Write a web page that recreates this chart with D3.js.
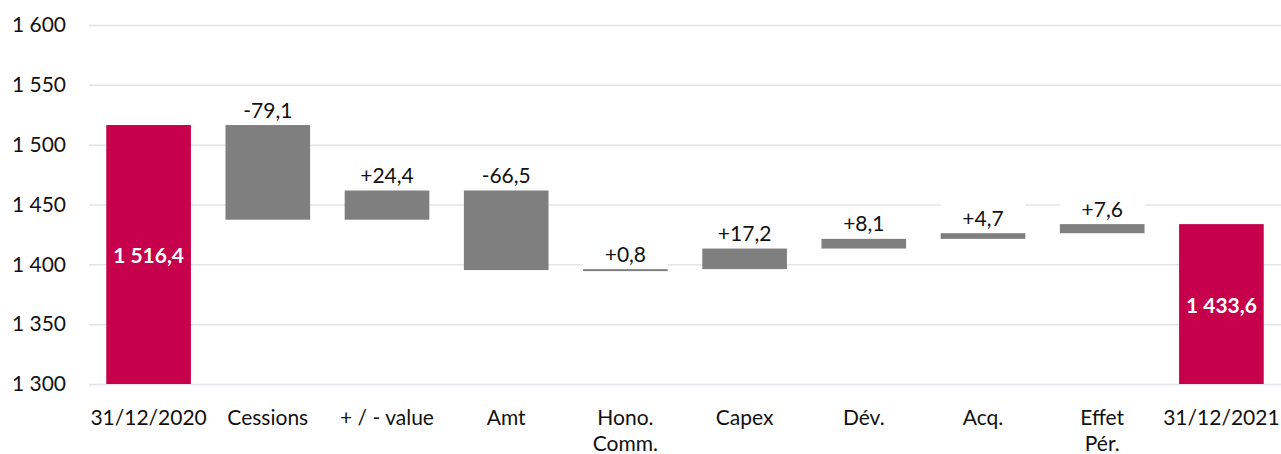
<!DOCTYPE html>
<html><head><meta charset="utf-8">
<script src="https://cdn.jsdelivr.net/npm/d3@7"></script>
<style>
html,body{margin:0;padding:0;background:#fff;}
svg{display:block;font-family:Lato,"Open Sans",sans-serif;}
</style></head>
<body>
<svg id="chart" width="1281" height="454"></svg>
<script>
// ---- data ----
const categories = ["31/12/2020","Cessions","+ / - value","Amt","Hono.|Comm.","Capex","Dév.","Acq.","Effet|Pér.","31/12/2021"];
const kinds      = ["total","delta","delta","delta","delta","delta","delta","delta","delta","total"];
const values     = [1516.4, -79.1, 24.4, -66.5, 0.8, 17.2, 8.1, 4.7, 7.6, 1433.6];
const yTicks     = [1300,1350,1400,1450,1500,1550,1600];
const yDomain    = [1300,1600];

// ---- layout ----
const svg = d3.select("#chart");
const margin = {left: 89, right: 0, top: 25, bottom: 70};
const W = 1281, H = 454;
const plotBottom = 384;

const loc = d3.formatLocale({decimal: ",", thousands: "\u00a0", grouping: [3], currency: ["", ""]});
const fmtTick = loc.format(",d");
const fmtVal = loc.format(",.1f");
const fmtDelta = v => (v >= 0 ? "+" : "-") + loc.format(".1f")(Math.abs(v));

const x = d3.scaleBand().domain(categories).range([margin.left, W - margin.right]).paddingInner(0.29).paddingOuter(0.145);
const y = d3.scaleLinear().domain(yDomain).range([plotBottom, margin.top]);

// compute waterfall
let running = 0;
const rows = categories.map((c, i) => {
  let lo, hi;
  if (kinds[i] === "total") { lo = yDomain[0]; hi = values[i]; running = values[i]; }
  else { const start = running; running = start + values[i]; lo = Math.min(start, running); hi = Math.max(start, running); }
  return {c, kind: kinds[i], v: values[i], lo, hi};
});

// gridlines
const yAxis = d3.axisLeft(y).tickValues(yTicks).tickSize(-(W - margin.right - margin.left)).tickFormat(fmtTick).tickPadding(23);
const gy = svg.append("g").attr("transform", `translate(${margin.left},0)`).call(yAxis);
gy.select(".domain").remove();
gy.selectAll(".tick line").attr("stroke", "#e3e3ea").attr("stroke-width", 1.5);
gy.selectAll(".tick text").attr("font-size", 21).attr("fill", "#111").attr("font-family", "Lato, sans-serif");

// label background boxes (white) for delta bars
svg.append("g").selectAll("rect").data(rows.filter(r => r.kind === "delta")).join("rect")
  .attr("x", d => x(d.c)).attr("width", x.bandwidth())
  .attr("y", d => y(d.hi) - 30).attr("height", 30)
  .attr("fill", "#fff");

// bars
svg.append("g").selectAll("rect").data(rows).join("rect")
  .attr("x", d => x(d.c)).attr("width", x.bandwidth())
  .attr("y", d => y(d.hi))
  .attr("height", d => Math.max(2, y(d.lo) - y(d.hi)))
  .attr("fill", d => d.kind === "total" ? "#c6004b" : "#7f7f7f");

// value labels
svg.append("g").selectAll("text").data(rows).join("text")
  .attr("x", d => x(d.c) + x.bandwidth() / 2)
  .attr("y", d => d.kind === "total" ? (y(d.lo) + y(d.hi)) / 2 : y(d.hi) - 16)
  .attr("text-anchor", "middle").attr("dominant-baseline", "central")
  .attr("font-size", 21)
  .attr("font-weight", d => d.kind === "total" ? "bold" : "normal")
  .attr("fill", d => d.kind === "total" ? "#fff" : "#111")
  .text(d => d.kind === "total" ? fmtVal(d.v) : fmtDelta(d.v));

// x axis labels
const xl = svg.append("g").selectAll("text").data(categories).join("text")
  .attr("x", d => x(d) + x.bandwidth() / 2)
  .attr("y", 416)
  .attr("text-anchor", "middle").attr("dominant-baseline", "central")
  .attr("font-size", 21).attr("fill", "#111");
xl.each(function(d) {
  const parts = d.split("|");
  const t = d3.select(this);
  parts.forEach((p, i) => t.append("tspan").attr("x", x(d) + x.bandwidth() / 2).attr("dy", i === 0 ? 0 : 26).text(p));
});
</script>
</body></html>
